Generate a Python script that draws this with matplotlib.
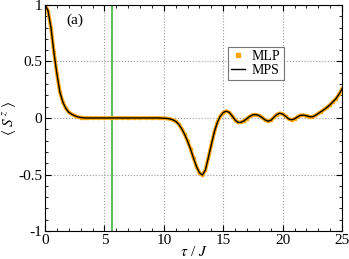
import matplotlib
matplotlib.use("Agg")
import matplotlib.pyplot as plt
import numpy as np
from matplotlib.lines import Line2D
from matplotlib.ticker import MultipleLocator

plt.rcParams['font.family'] = ['Liberation Serif', 'DejaVu Serif']
plt.rcParams['mathtext.fontset'] = 'stix'

tau = [0.0, 0.25, 0.5, 0.75, 1.0, 1.25, 1.5, 1.75, 2.0, 2.25, 2.5, 2.75, 3.0, 3.25,
       3.5, 4.0, 4.5, 5.0, 5.5, 6.0, 6.5, 7.0, 7.5, 8.0, 8.5, 9.0, 9.5, 9.75,
       10.0, 10.25, 10.5, 10.75, 11.0, 11.25, 11.5, 11.75, 12.0, 12.25, 12.5, 12.75,
       13.0, 13.25, 13.5, 13.75, 14.0, 14.25, 14.5, 14.75, 15.0, 15.25, 15.5, 15.75,
       16.0, 16.25, 16.5, 16.75, 17.0, 17.25, 17.5, 17.75, 18.0, 18.25, 18.5, 18.75,
       19.0, 19.25, 19.5, 19.75, 20.0, 20.25, 20.5, 20.75, 21.0, 21.25, 21.5, 21.75,
       22.0, 22.25, 22.5, 22.75, 23.0, 23.25, 23.5, 23.75, 24.0, 24.25, 24.5, 24.75, 25.0]
sz_mps = [1.0, 0.95, 0.80, 0.58, 0.39, 0.23, 0.14, 0.085, 0.05, 0.033, 0.02, 0.01, 0.004, 0.001,
          0.0, 0.0, 0.0, 0.0, 0.0, 0.0, 0.0, 0.0, 0.0, 0.0, 0.0, 0.0, 0.0, -0.001,
          -0.002, -0.004, -0.008, -0.016, -0.03, -0.055, -0.095, -0.145, -0.205, -0.275, -0.355, -0.43,
          -0.485, -0.505, -0.46, -0.35, -0.235, -0.125, -0.04, 0.015, 0.048, 0.06, 0.05, 0.018,
          -0.018, -0.04, -0.038, -0.025, -0.005, 0.015, 0.028, 0.03, 0.022, 0.005, -0.015, -0.028,
          -0.022, 0.005, 0.03, 0.042, 0.035, 0.015, -0.008, -0.016, -0.008, 0.01, 0.023, 0.025,
          0.02, 0.012, 0.01, 0.022, 0.04, 0.057, 0.075, 0.095, 0.118, 0.145, 0.172, 0.21, 0.257]
sz_mlp = sz_mps
tau_mark = 5.6
xticks = [0, 5, 10, 15, 20, 25]
xticklabels = ['0', '5', '10', '15', '20', '25']
yticks = [-1, -0.5, 0, 0.5, 1]
yticklabels = ['-1', '-0.5', '0', '0.5', '1']

fig = plt.figure(figsize=(3.49, 2.59), dpi=100)
ax = fig.add_axes([0.129, 0.108, 0.851, 0.873])

ax.plot(tau, sz_mlp, color='#FFA500', lw=2.6, marker='s', ms=2.0, mec='#FFA500', zorder=2)
ax.plot(tau, sz_mps, color='black', lw=1.0, zorder=3)
ax.axvline(tau_mark, color='#5DBE5D', lw=1.5, zorder=1)

ax.set_xlim(0, 25)
ax.set_ylim(-1, 1)
ax.set_xticks(xticks)
ax.set_xticklabels(xticklabels)
ax.set_yticks(yticks)
ax.set_yticklabels(yticklabels)
ax.xaxis.set_minor_locator(MultipleLocator(1))
ax.yaxis.set_minor_locator(MultipleLocator(0.1))
ax.tick_params(which='both', direction='in', top=True, right=True, labelsize=11, pad=2)
ax.tick_params(which='major', length=4)
ax.tick_params(which='minor', length=2.5)
ax.grid(True, which='major', ls=':', color='#999999', lw=0.8)

ax.set_xlabel(r'$\tau$ / $J$', fontsize=11, labelpad=-1)
ax.set_ylabel(r'$\langle\ S^{\,z}\ \rangle$', fontsize=11, labelpad=0)
ax.text(0.1, 0.93, '(a)', transform=ax.transAxes, fontsize=11, ha='center', va='center')

handles = [Line2D([], [], color='#FFA500', marker='s', ms=2.5, ls='none'),
           Line2D([], [], color='black', lw=1.0)]
leg = ax.legend(handles, ['MLP', 'MPS'], loc='upper left', bbox_to_anchor=(0.615, 0.815),
                fontsize=10, frameon=True, fancybox=False, edgecolor='#555555',
                handlelength=1.0, handletextpad=0.5, borderpad=0.25, labelspacing=0.05,
                borderaxespad=0)
leg.get_frame().set_linewidth(0.8)

fig.savefig('out.png', dpi=100)
